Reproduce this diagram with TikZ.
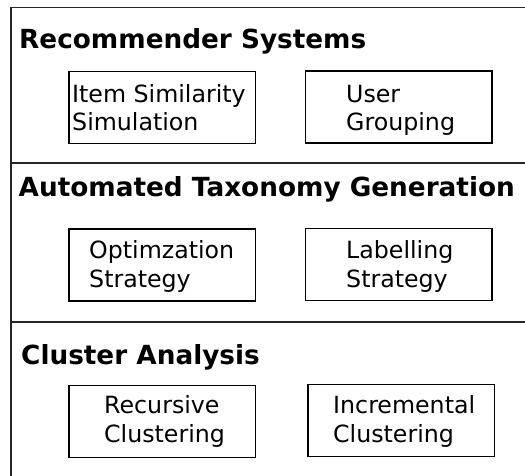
\documentclass[tikz,border=0pt]{standalone}
\usepackage{fontspec}
\setmainfont{DejaVu Sans}
\begin{document}
\begin{tikzpicture}[x=1pt,y=-1pt,
  frameline/.style={line width=1.8pt,draw=black!85},
  heading/.style={font=\bfseries\fontsize{26.3}{30}\selectfont,anchor=base west,inner sep=0pt},
  itembox/.style={draw,line width=1.5pt,minimum width=186.5pt,minimum height=72pt,inner sep=0pt},
  itemtext/.style={font=\fontsize{23.7}{28}\selectfont,anchor=base west,inner sep=0pt}]
\useasboundingbox (0,0) rectangle (525,475);

% outer frame and section separators
\coordinate (tl) at (11,7.5);
\coordinate (tr) at (526,7.5);
\coordinate (bl) at (11,476);
\coordinate (s1l) at (11,163);
\coordinate (s1r) at (526,163);
\coordinate (s2l) at (11,322);
\coordinate (s2r) at (526,322);
\draw[frameline] (bl) -- (tl) -- (tr);
\draw[frameline] (s1l) -- (s1r);
\draw[frameline] (s2l) -- (s2r);

% section headings
\node[heading] (h1) at (19,48) {Recommender Systems};
\node[heading] (h2) at (18.5,196) {Automated Taxonomy Generation};
\node[heading] (h3) at (21,364) {Cluster Analysis};

% item boxes
\node[itembox] (b1) at (162,107.5) {};
\node[itembox] (b2) at (398.5,107) {};
\node[itembox] (b3) at (162,265) {};
\node[itembox] (b4) at (398.5,264.5) {};
\node[itembox] (b5) at (162,421.5) {};
\node[itembox] (b6) at (401,420.5) {};

% item labels
\node[itemtext] (t1a) at (72,102) {Item Similarity};
\node[itemtext] (t1b) at (72,130) {Simulation};
\node[itemtext] (t2a) at (346,102) {User};
\node[itemtext] (t2b) at (346,130) {Grouping};
\node[itemtext] (t3a) at (89,258) {Optimzation};
\node[itemtext] (t3b) at (89,287) {Strategy};
\node[itemtext] (t4a) at (346,258) {Labelling};
\node[itemtext] (t4b) at (346,287) {Strategy};
\node[itemtext] (t5a) at (104,413) {Recursive};
\node[itemtext] (t5b) at (104,442) {Clustering};
\node[itemtext] (t6a) at (333,413) {Incremental};
\node[itemtext] (t6b) at (333,442) {Clustering};
\end{tikzpicture}
\end{document}
